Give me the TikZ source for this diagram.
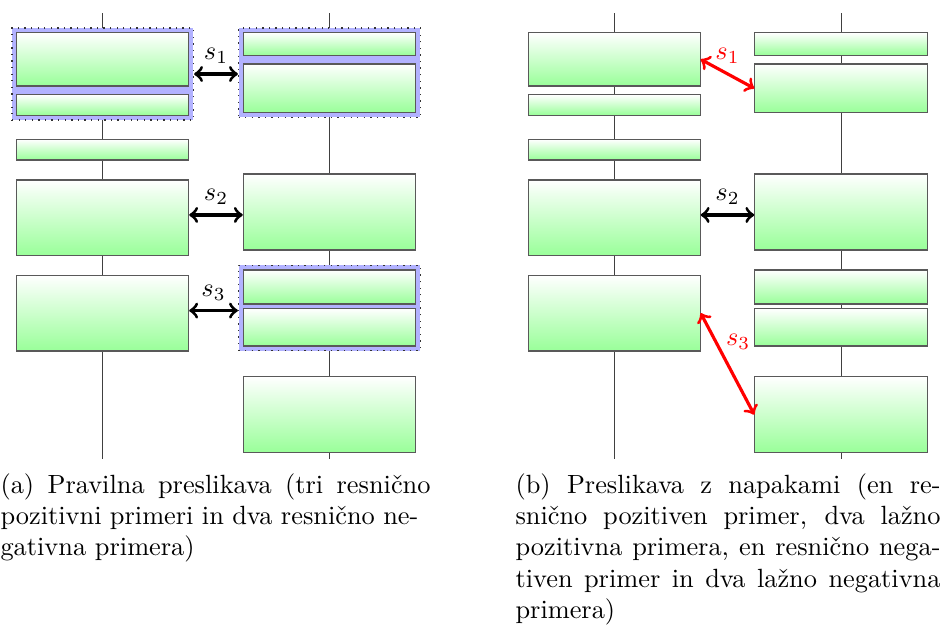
\documentclass[tikz,border=0pt]{standalone}
\usepackage{fontspec}
\usetikzlibrary{backgrounds,fit,calc}

\tikzset{
  blk/.style={draw=black!65, line width=0.4pt, top color=white, bottom color=green!40, inner sep=0pt},
  grp/.style={draw=black!80, dotted, line width=0.5pt, fill=blue!30, inner sep=1.6pt},
  axis/.style={draw=black!75, line width=0.4pt},
  link/.style={<->, very thick, line cap=round},
  lbl/.style={font=\normalsize},
  capline/.style={inner sep=0pt, anchor=base west},
}

% two columns of blocks (left and right document), coordinates in px
\newcommand\twocolumns[1]{%
  \coordinate (#1Lt) at (102.7,13.3);  \coordinate (#1Lb) at (102.7,459.3);
  \coordinate (#1Rt) at (329.7,13.3);  \coordinate (#1Rb) at (329.7,459.3);
  % left column
  \node[blk, fit={(16.7,32.7) (188.7,86)}]    (#1L1) {};
  \node[blk, fit={(16.7,94.7) (188.7,115.3)}] (#1L2) {};
  \node[blk, fit={(16.7,139.3) (188.7,160)}]  (#1L3) {};
  \node[blk, fit={(16.7,180) (188.7,255.7)}]  (#1L4) {};
  \node[blk, fit={(16.7,275.3) (188.7,351)}]  (#1L5) {};
  % right column
  \node[blk, fit={(243.3,32.7) (415.7,55.3)}]  (#1R1) {};
  \node[blk, fit={(243.3,64) (415.7,112.7)}]   (#1R2) {};
  \node[blk, fit={(243.3,174) (415.7,250)}]    (#1R3) {};
  \node[blk, fit={(243.3,270) (415.7,304)}]    (#1R4) {};
  \node[blk, fit={(243.3,308.7) (415.7,346)}]  (#1R5) {};
  \node[blk, fit={(243.3,376.7) (415.7,452.7)}] (#1R6) {};
  \begin{pgfonlayer}{background}
    \draw[axis] (#1Lt) -- (#1Lb);
    \draw[axis] (#1Rt) -- (#1Rb);
  \end{pgfonlayer}
}

\begin{document}
\begin{tikzpicture}[x=0.3795pt, y=-0.3795pt]
\useasboundingbox (0,0) rectangle (941,628);

% ---------- (a) correct mapping ----------
\begin{scope}
  \twocolumns{a}
  \begin{pgfonlayer}{background}
    \node[grp, fit=(aL1)(aL2)] (ga1) {};
    \node[grp, fit=(aR1)(aR2)] (ga2) {};
    \node[grp, fit=(aR4)(aR5)] (ga3) {};
  \end{pgfonlayer}
  \draw[link] (ga1.east) -- (ga1.east -| ga2.west) node[lbl, midway, above] {$s_1$};
  \coordinate (am2) at ($(aL4.east)!0.5!(aR3.west)$);
  \draw[link] (aL4.east |- am2) -- (aR3.west |- am2) node[lbl, midway, above] {$s_2$};
  \coordinate (am3) at ($(aL5.east)!0.5!(ga3.west)$);
  \draw[link] (aL5.east |- am3) -- (ga3.west |- am3) node[lbl, midway, above] {$s_3$};
\end{scope}

% ---------- (b) mapping with errors ----------
\begin{scope}[shift={(511.5,0)}]
  \twocolumns{b}
  \draw[link, red] (bL1.east) -- (bR2.west) node[lbl, midway, above] {$s_1$};
  \coordinate (bm2) at ($(bL4.east)!0.5!(bR3.west)$);
  \draw[link] (bL4.east |- bm2) -- (bR3.west |- bm2) node[lbl, midway, above] {$s_2$};
  \draw[link, red] (bL5.east) -- (bR6.west) node[lbl, pos=0.28, right] {$s_3$};
\end{scope}

% ---------- captions ----------
\node[capline] (ca1) at (0,493.3)   {\makebox[163.2pt][s]{(a) Pravilna preslikava (tri resnično}};
\node[capline] (ca2) at (0,524.6)   {\makebox[158.6pt][s]{pozitivni primeri in dva resnično ne-}};
\node[capline] (ca3) at (0,555.9)   {gativna primera)};

\node[capline] (cb1) at (515,493.3) {\makebox[161.3pt][s]{(b) Preslikava z napakami (en re-}};
\node[capline] (cb2) at (515,524.6) {\makebox[161.3pt][s]{snično pozitiven primer, dva lažno}};
\node[capline] (cb3) at (515,555.9) {\makebox[161.3pt][s]{pozitivna primera, en resnično nega-}};
\node[capline] (cb4) at (515,587.2) {\makebox[161.3pt][s]{tiven primer in dva lažno negativna}};
\node[capline] (cb5) at (515,618.5) {primera)};
\end{tikzpicture}
\end{document}
